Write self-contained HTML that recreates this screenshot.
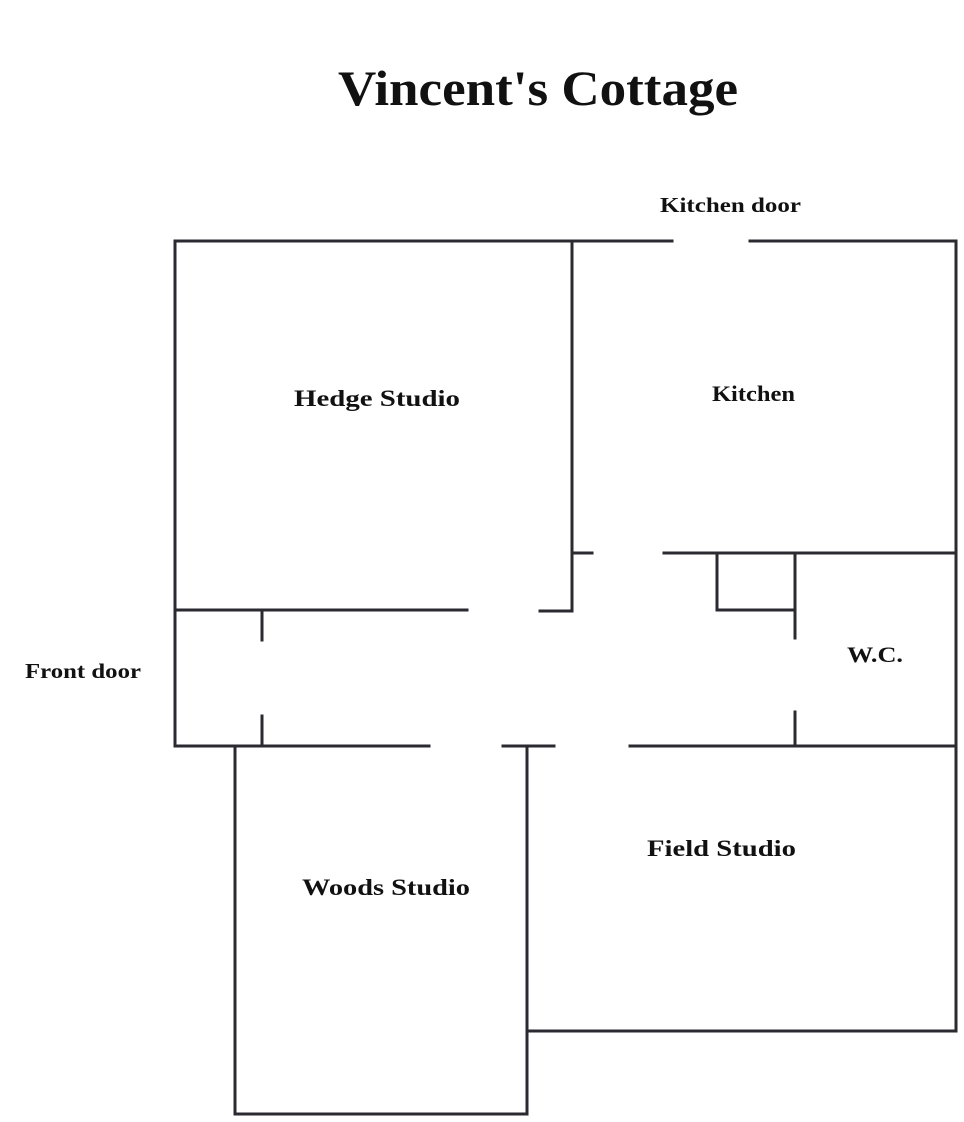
<!DOCTYPE html>
<html><head><style>
body{margin:0;background:#fff;width:964px;height:1122px;overflow:hidden}
svg{display:block}
text{font-family:"Liberation Serif",serif;font-weight:bold;fill:#111}
</style></head><body>
<svg width="964" height="1122" viewBox="0 0 964 1122">
<g stroke="#2a2a30" stroke-width="3" fill="none" stroke-linecap="square">
<path d="M175 241V746"/>
<path d="M175 241H672M750 241H956"/>
<path d="M956 241V1030"/>
<path d="M572 241V611H540"/>
<path d="M572 553H592"/>
<path d="M177 610H467"/>
<path d="M262 610V640M262 716V746"/>
<path d="M175 746H429M503 746H554M630 746H956"/>
<path d="M235 746V1114H527V746"/>
<path d="M527 1031H956"/>
<path d="M664 553H956"/>
<path d="M717 553V610H795M795 553V638M795 712V746"/>
</g>
<text x="338" y="105" font-size="50" textLength="400" lengthAdjust="spacingAndGlyphs">Vincent's Cottage</text>
<text x="660" y="212" font-size="21" textLength="141" lengthAdjust="spacingAndGlyphs">Kitchen door</text>
<text x="294" y="406" font-size="23" textLength="166" lengthAdjust="spacingAndGlyphs">Hedge Studio</text>
<text x="712" y="401" font-size="22" textLength="83" lengthAdjust="spacingAndGlyphs">Kitchen</text>
<text x="847" y="662" font-size="22" textLength="56" lengthAdjust="spacingAndGlyphs">W.C.</text>
<text x="25" y="678" font-size="21" textLength="116" lengthAdjust="spacingAndGlyphs">Front door</text>
<text x="647" y="856" font-size="23" textLength="149" lengthAdjust="spacingAndGlyphs">Field Studio</text>
<text x="302" y="895" font-size="23" textLength="168" lengthAdjust="spacingAndGlyphs">Woods Studio</text>
</svg>
</body></html>
